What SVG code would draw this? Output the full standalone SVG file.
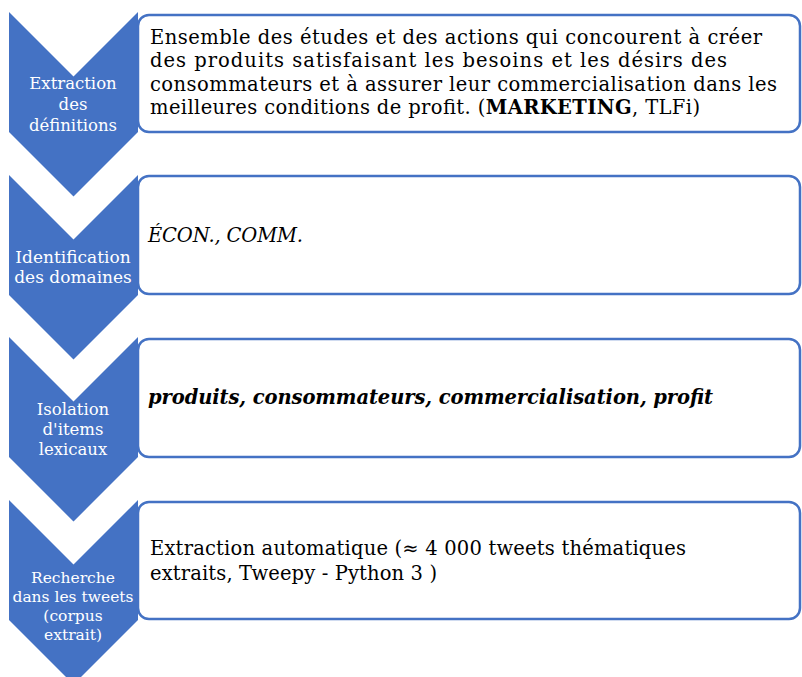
<svg xmlns="http://www.w3.org/2000/svg" width="802" height="677" viewBox="0 0 802 677">
<defs>
<style>
.chev{fill:#4472C4;}
.box{fill:#FFFFFF;stroke:#4472C4;stroke-width:2.5;}
.lbl{font-family:"DejaVu Serif","Liberation Serif",serif;fill:#FFFFFF;text-anchor:middle;font-size:16.5px;}
.txt{font-family:"DejaVu Serif","Liberation Serif",serif;fill:#000000;font-size:19.5px;}
</style>
</defs>
<rect width="802" height="677" fill="#FFFFFF"/>
<g id="connectors"></g>
<g id="step1">
<polygon class="chev" points="9,12 73.5,76.5 138,12 138,132 73.5,196.5 9,132"/>
<text class="lbl" x="73" y="89">Extraction</text>
<text class="lbl" x="73" y="110">des</text>
<text class="lbl" x="73" y="131">définitions</text>
</g>
<g id="box1">
<rect class="box" x="138" y="15" width="662" height="117" rx="11"/>
<text class="txt" x="150" y="44" textLength="612" lengthAdjust="spacing">Ensemble des études et des actions qui concourent à créer</text>
<text class="txt" x="150" y="67" textLength="577" lengthAdjust="spacing">des produits satisfaisant  les besoins et les désirs des</text>
<text class="txt" x="150" y="91" textLength="627" lengthAdjust="spacing">consommateurs et à assurer leur commercialisation dans les</text>
<text class="txt" x="150" y="114" textLength="550" lengthAdjust="spacing">meilleures conditions de profit. (<tspan font-weight="bold">MARKETING</tspan>, TLFi)</text>
</g>
<g id="step2">
<polygon class="chev" points="9,175 73.5,239.5 138,175 138,295 73.5,359.5 9,295"/>
<text class="lbl" x="73" y="263" style="font-size:17px">Identification</text>
<text class="lbl" x="73" y="283" style="font-size:17px">des domaines</text>
</g>
<g id="box2">
<rect class="box" x="138" y="176" width="662" height="118" rx="11"/>
<text class="txt" x="148" y="242" font-style="italic" textLength="155" lengthAdjust="spacing">ÉCON., COMM.</text>
</g>
<g id="step3">
<polygon class="chev" points="9,337 73.5,401.5 138,337 138,457 73.5,521.5 9,457"/>
<text class="lbl" x="73" y="415">Isolation</text>
<text class="lbl" x="73" y="435">d'items</text>
<text class="lbl" x="73" y="455">lexicaux</text>
</g>
<g id="box3">
<rect class="box" x="138" y="339" width="662" height="118" rx="11"/>
<text class="txt" x="148" y="404" font-style="italic" font-weight="bold" textLength="565" lengthAdjust="spacing">produits, consommateurs, commercialisation, profit</text>
</g>
<g id="step4">
<polygon class="chev" points="9,500 73.5,564.5 138,500 138,620 73.5,684.5 9,620"/>
<text class="lbl" x="73" y="583" style="font-size:15.5px">Recherche</text>
<text class="lbl" x="73" y="602" style="font-size:15.5px">dans les tweets</text>
<text class="lbl" x="73" y="621" style="font-size:15.5px">(corpus</text>
<text class="lbl" x="73" y="640" style="font-size:15.5px">extrait)</text>
</g>
<g id="box4">
<rect class="box" x="138" y="502" width="662" height="117" rx="11"/>
<text class="txt" x="150" y="555" textLength="536" lengthAdjust="spacing">Extraction automatique (≈ 4 000 tweets thématiques</text>
<text class="txt" x="150" y="580" textLength="287" lengthAdjust="spacing">extraits, Tweepy - Python 3 )</text>
</g>
</svg>
